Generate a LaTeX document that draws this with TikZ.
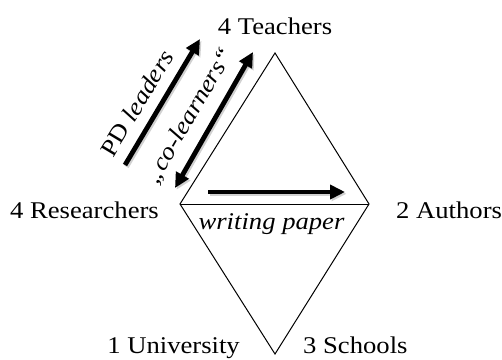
\documentclass[tikz,border=0pt]{standalone}
\usepackage{fontspec}
\setmainfont{Liberation Serif}
\usetikzlibrary{arrows.meta}
\newcommand{\wide}[1]{\scalebox{1.11}[1]{#1}}
\begin{document}
\begin{tikzpicture}[x=1pt,y=1pt,
  lbl/.style={font=\fontsize{24}{28}\selectfont, inner sep=0pt},
  edge/.style={line width=1pt, line join=miter},
  bigarrow/.style={line width=4.8pt, -{Triangle[length=15pt,width=14pt]}},
  bigdouble/.style={line width=4.8pt, {Triangle[length=15pt,width=14pt]}-{Triangle[length=15pt,width=14pt]}},
  shade/.style={black!30, opacity=0.6, transform canvas={shift={(1.5pt,-1.8pt)}}}]
\useasboundingbox (0,0) rectangle (502,359);
% diamond vertices
\coordinate (T) at (275,306);
\coordinate (L) at (180,155);
\coordinate (R) at (369,155);
\coordinate (B) at (275,5);
\draw[edge] (L) -- (T) -- (R) -- (B) -- cycle;
\draw[edge] (L) -- (R);
% labels
\node[lbl, anchor=base] (teach) at (275,324) {\wide{4 Teachers}};
\node[lbl, anchor=base east] (res) at (159,141) {\wide{4 Researchers}};
\node[lbl, anchor=base west] (auth) at (396,141) {\wide{2 Authors}};
\node[lbl, anchor=base] (wp) at (271.5,130) {\wide{\itshape writing paper}};
\node[lbl, anchor=base east] (uni) at (240,6) {\wide{1 University}};
\node[lbl, anchor=base west] (sch) at (303,6) {\wide{3 Schools}};
% arrows
\coordinate (pd1) at (125,194);
\coordinate (pd2) at (200,320);
\coordinate (co1) at (175,171);
\coordinate (co2) at (253,307);
\coordinate (wp1) at (208,167);
\coordinate (wp2) at (345,167);
\draw[bigarrow, shade] (pd1) -- (pd2);
\draw[bigdouble, shade] (co1) -- (co2);
\draw[bigarrow, shade] (wp1) -- (wp2);
\draw[bigarrow] (pd1) -- (pd2);
\draw[bigdouble] (co1) -- (co2);
\draw[bigarrow] (wp1) -- (wp2);
\node[lbl, rotate=59] (pdl) at (137,256) {\wide{PD \itshape leaders}};
\node[lbl, rotate=60] (col) at (190,243) {\wide{\itshape „co-learners“}};
\end{tikzpicture}
\end{document}
